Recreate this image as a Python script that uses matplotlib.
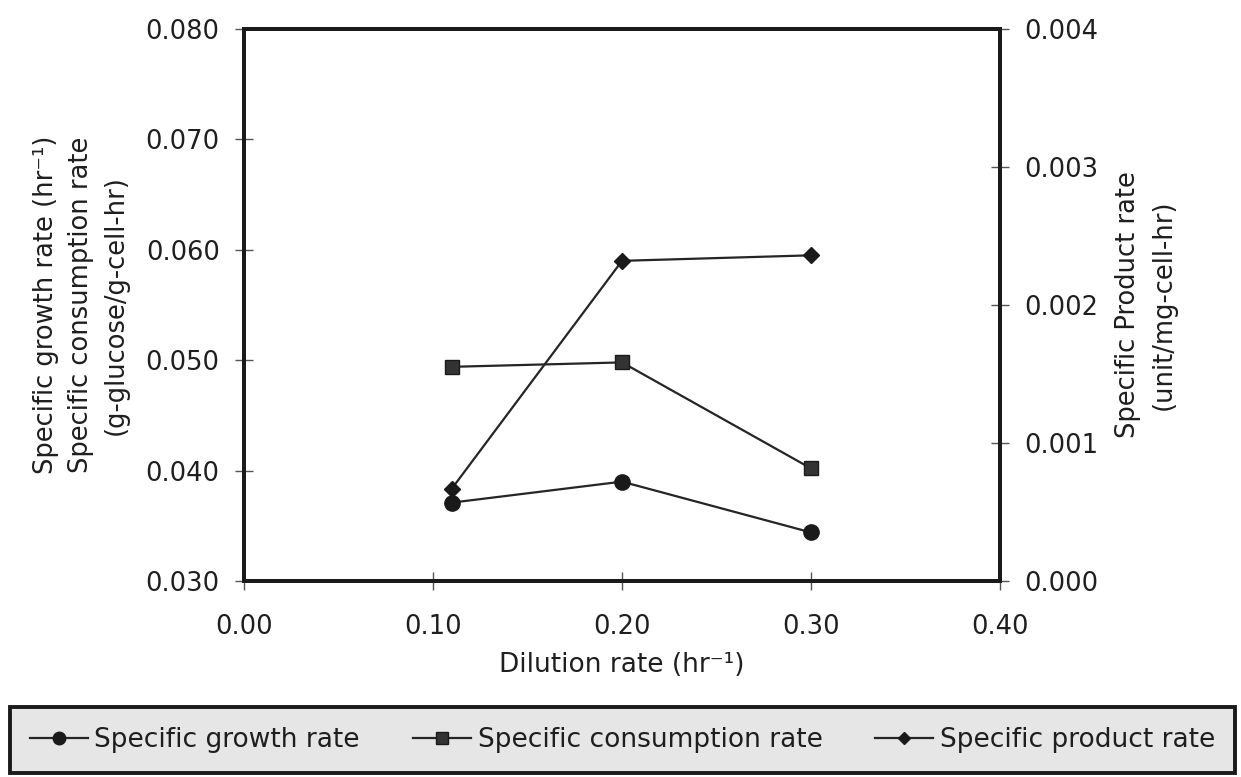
import matplotlib
matplotlib.use("Agg")
import matplotlib.pyplot as plt
from matplotlib.lines import Line2D

# ---- data ----
dilution_rate = [0.11, 0.20, 0.30]
growth_rate = [0.0371, 0.0390, 0.0344]
consumption_rate = [0.0494, 0.0498, 0.0402]
product_rate = [0.00067, 0.00232, 0.00236]

x_ticks = [0.00, 0.10, 0.20, 0.30, 0.40]
left_ticks = [0.030, 0.040, 0.050, 0.060, 0.070, 0.080]
right_ticks = [0.000, 0.001, 0.002, 0.003, 0.004]

legend_labels = ["Specific growth rate", "Specific consumption rate", "Specific product rate"]

plt.rcParams['font.family'] = ['DejaVu Sans']
FS = 18.5
LC = '#252525'
TC = '#1e1e1e'

fig = plt.figure(figsize=(12.41, 7.77), dpi=100)
W, H = 1241, 777
ax = fig.add_axes([244 / W, 1 - 581 / H, (1000 - 244) / W, (581 - 29) / H])
ax2 = ax.twinx()

l1, = ax.plot(dilution_rate, growth_rate, color=LC, lw=1.6, marker='o', ms=11,
              mfc='#1a1a1a', mec='#1a1a1a', zorder=3)
l2, = ax.plot(dilution_rate, consumption_rate, color=LC, lw=1.6, marker='s', ms=10,
              mfc='#333333', mec='#1a1a1a', zorder=3)
l3, = ax2.plot(dilution_rate, product_rate, color=LC, lw=1.6, marker='D', ms=8.5,
               mfc='#1a1a1a', mec='#1a1a1a', zorder=3)

ax.set_xlim(0, 0.40)
ax.set_ylim(0.030, 0.080)
ax2.set_ylim(0.000, 0.004)

ax.set_xticks(x_ticks)
ax.set_xticklabels([f"{v:.2f}" for v in x_ticks])
ax.set_yticks(left_ticks)
ax.set_yticklabels([f"{v:.3f}" for v in left_ticks])
ax2.set_yticks(right_ticks)
ax2.set_yticklabels([f"{v:.3f}" for v in right_ticks])

for a in (ax, ax2):
    for s in a.spines.values():
        s.set_linewidth(2.8)
        s.set_color('#1a1a1a')

ax.tick_params(axis='x', direction='inout', length=13, width=1.0, color='#555555',
               labelsize=FS, pad=17, labelcolor=TC)
ax.tick_params(axis='y', direction='inout', length=13, width=1.0, color='#555555',
               labelsize=FS, pad=11, labelcolor=TC)
ax2.tick_params(axis='y', direction='inout', length=13, width=1.0, color='#555555',
                labelsize=FS, pad=11, labelcolor=TC)

ax.set_xlabel("Dilution rate (hr\u207b\u00b9)", fontsize=FS + 0.5,
              labelpad=9, color=TC)
ax.set_ylabel("Specific growth rate (hr\u207b\u00b9)\nSpecific consumption rate\n(g-glucose/g-cell-hr)",
              fontsize=FS, labelpad=12, linespacing=1.45, color=TC)
ax2.set_ylabel("Specific Product rate\n(unit/mg-cell-hr)", fontsize=FS,
               labelpad=12, linespacing=1.5, color=TC)

handles = [
    Line2D([], [], color=LC, lw=1.6, marker='o', ms=9, mfc='#1a1a1a', mec='#1a1a1a'),
    Line2D([], [], color=LC, lw=1.6, marker='s', ms=8, mfc='#333333', mec='#1a1a1a'),
    Line2D([], [], color=LC, lw=1.6, marker='D', ms=6.5, mfc='#1a1a1a', mec='#1a1a1a'),
]
leg = fig.legend(handles, legend_labels, loc='center', ncol=3, mode='expand',
                 bbox_to_anchor=(10 / W, 1 - 775 / H, 1225 / W, 70 / H),
                 fontsize=FS + 0.5, handlelength=2.2, handletextpad=0.25,
                 borderpad=0.75, borderaxespad=0, fancybox=False, framealpha=1,
                 edgecolor='#1a1a1a', facecolor='#e6e6e6')
leg.get_frame().set_linewidth(2.8)
for t in leg.get_texts():
    t.set_color(TC)

fig.savefig("out.png", dpi=100)
